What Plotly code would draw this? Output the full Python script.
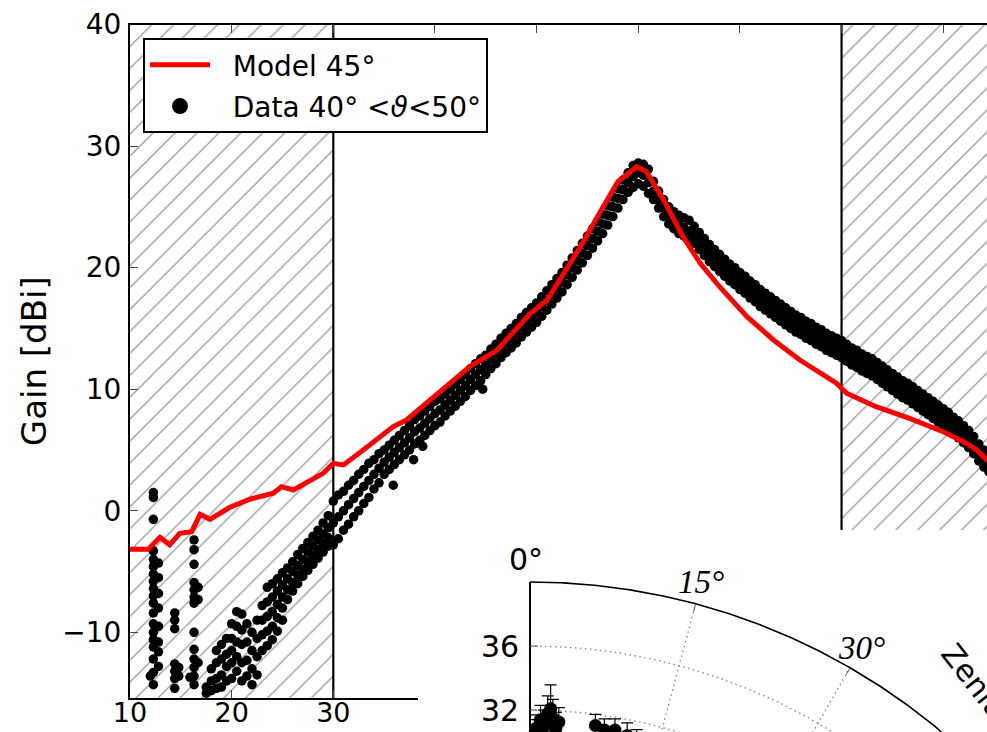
import numpy as np
import plotly.graph_objects as go

# ---------------- data ----------------
# Model 45 deg curve (zenith angle [deg], gain [dBi])
model_x = [10, 11.8, 12.95, 13.9, 14.9, 16.07, 16.9, 17.87, 19.84, 21.8, 24.1, 24.9, 26.07,
           29.0, 30.0, 31.0, 32.95, 35.9, 37.2, 39.5, 42.1, 43.4, 46.1, 48.0, 49.35, 51.0,
           52.3, 54.3, 56.2, 58.0, 59.85, 60.8, 62.5, 64.4, 66.1, 68.0, 70.7, 73.3, 75.9,
           78.5, 79.5, 80.5, 83.4, 86.7, 90.0, 92.0, 93.3, 94.3, 95.0]
model_y = [-3.17, -3.17, -2.18, -2.8, -1.85, -1.72, -0.29, -0.7, 0.29, 0.95, 1.44, 1.98, 1.71,
           3.08, 3.9, 3.77, 5.0, 6.92, 7.47, 9.11, 10.9, 11.85, 13.2, 15.0, 16.2, 17.3,
           18.98, 21.7, 24.5, 27.07, 28.3, 27.9, 25.57, 22.55, 20.36, 18.43, 15.97, 14.05, 12.4,
           11.03, 10.49, 9.67, 8.56, 7.6, 6.5, 5.68, 5.0, 4.18, 3.7]

# Data 40<theta<50, main band. Middle row at x = 30.0, 30.5, ..., 95.0
band_mid_y = [-1.0, -0.5, 0.0, 0.5, 1.0, 1.5, 2.0, 2.5, 3.0, 3.5,
              4.0, 4.4, 4.8, 5.2, 5.6, 6.0, 6.5, 6.8, 7.2, 7.6,
              8.0, 8.3, 8.7, 9.1, 9.5, 9.9, 10.3, 10.8, 11.2, 11.6,
              12.0, 12.5, 12.9, 13.4, 13.8, 14.2, 14.6, 15.1, 15.5, 15.9,
              16.3, 16.8, 17.3, 17.8, 18.3, 18.8, 19.4, 20.0, 20.6, 21.2,
              21.8, 22.4, 23.0, 23.6, 24.3, 25.0, 25.7, 26.4, 27.0, 27.5,
              27.8, 27.6, 27.0, 26.3, 25.6, 24.9, 24.3, 23.9, 23.6, 23.3,
              23.0, 22.7, 22.2, 21.7, 21.2, 20.8, 20.4, 20.0, 19.6, 19.3,
              18.9, 18.6, 18.2, 17.9, 17.5, 17.2, 16.9, 16.6, 16.3, 16.0,
              15.7, 15.4, 15.2, 14.9, 14.7, 14.4, 14.2, 13.9, 13.7, 13.5,
              13.3, 13.0, 12.7, 12.5, 12.2, 12.0, 11.8, 11.5, 11.2, 10.9,
              10.6, 10.3, 10.0, 9.8, 9.5, 9.2, 8.9, 8.6, 8.3, 8.0,
              7.7, 7.4, 7.0, 6.7, 6.3, 5.9, 5.4, 4.8, 4.3, 3.9,
              3.5]
# upper edge of the band at x = 30, 31, ..., 95
band_hi_int_y = [0.8, 1.6, 2.5, 3.4, 4.2, 5.0, 5.8, 6.6, 7.5, 8.2,
                 9.0, 9.6, 10.4, 11.2, 12.1, 12.8, 13.7, 14.6, 15.4, 16.3,
                 17.1, 18.1, 19.1, 20.2, 21.4, 22.6, 23.8, 25.1, 26.5, 27.8,
                 28.6, 28.1, 26.3, 25.0, 24.3, 23.9, 22.9, 21.9, 21.1, 20.3,
                 19.6, 18.9, 18.2, 17.6, 17.0, 16.4, 15.9, 15.4, 14.9, 14.4,
                 14.0, 13.4, 12.9, 12.5, 11.9, 11.3, 10.7, 10.2, 9.6, 9.0,
                 8.4, 7.7, 7.0, 6.1, 5.0, 4.2]
# upper edge of the band at x = 30.5, 31.5, ..., 94.5
band_hi_half_y = [1.3, 2.1, 3.0, 3.9, 4.7, 5.4, 6.2, 7.0, 7.8, 8.6,
                  9.2, 10.0, 10.8, 11.7, 12.5, 13.3, 14.2, 15.0, 15.9, 16.7,
                  17.6, 18.6, 19.6, 20.8, 22.0, 23.2, 24.4, 25.8, 27.2, 28.4,
                  28.5, 27.1, 25.6, 24.6, 24.1, 23.4, 22.4, 21.5, 20.7, 20.0,
                  19.3, 18.6, 17.9, 17.3, 16.7, 16.1, 15.6, 15.1, 14.6, 14.2,
                  13.7, 13.2, 12.7, 12.2, 11.6, 11.0, 10.5, 9.9, 9.3, 8.7,
                  8.1, 7.4, 6.6, 5.5, 4.6]
# lower edge of the band at x = 30, 31, ..., 95
band_lo_int_y = [-2.8, -1.6, -0.5, 0.6, 1.8, 3.0, 3.8, 4.6, 5.5, 6.2,
                 7.0, 7.8, 8.6, 9.4, 10.3, 11.2, 12.1, 13.0, 13.8, 14.7,
                 15.5, 16.5, 17.5, 18.6, 19.8, 21.0, 22.2, 23.5, 24.9, 26.2,
                 26.9, 26.1, 24.9, 23.6, 22.8, 22.3, 21.5, 20.5, 19.7, 18.9,
                 18.2, 17.5, 16.8, 16.2, 15.6, 15.0, 14.5, 14.0, 13.5, 13.0,
                 12.6, 12.0, 11.5, 11.1, 10.5, 9.9, 9.3, 8.8, 8.2, 7.6,
                 7.0, 6.3, 5.6, 4.7, 3.6, 2.8]
# lower edge of the band at x = 30.5, 31.5, ..., 94.5
band_lo_half_y = [-2.3, -1.1, 0.0, 1.1, 2.3, 3.4, 4.2, 5.0, 5.8, 6.6,
                  7.3, 8.2, 9.0, 9.9, 10.7, 11.7, 12.6, 13.4, 14.3, 15.1,
                  16.0, 17.0, 18.0, 19.2, 20.4, 21.6, 22.8, 24.2, 25.6, 26.6,
                  26.7, 25.6, 24.2, 23.2, 22.6, 22.0, 21.0, 20.1, 19.3, 18.6,
                  17.9, 17.2, 16.5, 15.9, 15.3, 14.7, 14.2, 13.7, 13.2, 12.8,
                  12.3, 11.8, 11.3, 10.8, 10.2, 9.6, 9.1, 8.5, 7.9, 7.3,
                  6.7, 6.0, 5.2, 4.1, 3.2]

# scattered low-angle data (columns)
low_x = [17.5, 18, 18.5, 19, 19.5, 20, 20.5, 21, 21.5, 22, 22.5, 23, 23.5, 24, 24.5, 25,
         25.5, 26, 26.5, 27, 27.5, 28, 28.5, 29, 29.5]
low_y = [[-14.5, -15.0],
         [-13.0, -14.0, -14.8],
         [-11.5, -12.5, -13.8, -14.6],
         [-11.0, -12.2, -13.5, -14.5],
         [-10.5, -11.8, -12.8, -14.0],
         [-9.3, -10.5, -11.5, -12.5, -13.8],
         [-8.3, -9.5, -10.8, -12.0, -13.2],
         [-8.5, -9.8, -11.0, -12.5, -14.0],
         [-9.3, -10.8, -12.3, -13.6],
         [-10.0, -11.5, -13.0, -14.3],
         [-9.0, -10.5, -12.0, -13.5],
         [-7.8, -9.0, -10.2, -11.5],
         [-6.3, -7.5, -8.7, -9.9, -11.1],
         [-6.0, -7.1, -8.3, -9.5, -10.6],
         [-5.6, -6.6, -7.7, -8.8, -9.9],
         [-5.1, -6.1, -7.1, -8.0, -9.0],
         [-4.7, -5.6, -6.5, -7.3],
         [-4.2, -5.0, -5.9, -6.6],
         [-3.6, -4.5, -5.3, -6.0],
         [-3.1, -4.0, -4.8, -5.4],
         [-2.6, -3.4, -4.2, -4.9],
         [-2.1, -2.9, -3.7, -4.4],
         [-1.6, -2.4, -3.2, -3.9],
         [-1.0, -1.9, -2.7, -3.4],
         [-0.4, -1.4, -2.2, -2.9]]
iso_x = [12.0, 12.3, 12.8, 14.4, 14.8, 15.9, 16.3, 16.7]
iso_y = [[-13.6],
         [1.5, 1.1, -0.7, -3.3, -4.0, -4.6, -5.2, -5.8, -6.4, -7.0, -7.6, -8.4, -9.3,
          -10.0, -10.6, -11.2, -12.2, -13.3, -14.3],
         [-4.3, -5.5, -6.8, -8.0, -9.5, -10.8, -11.6, -12.8],
         [-8.4, -9.0, -9.7, -12.6, -13.2, -13.8, -14.6],
         [-12.9, -13.6],
         [-13.7],
         [-2.4, -3.2, -4.4, -5.9, -6.5, -7.1, -7.6, -10.0, -11.4, -12.2, -12.9, -13.6, -14.3],
         [-6.3, -7.3, -12.5]]
stray_x = [35.9, 37.9, 38.8, 44.7]
stray_y = [2.1, 4.2, 5.3, 10.0]

# hatched (excluded) zenith ranges
excluded_ranges = [(0, 30), (80, 100)]

x_tick_vals = [10, 20, 30, 40, 50, 60, 70, 80, 90]
x_tick_text = ["10", "20", "30", "", "", "", "", "", ""]   # 40+ hidden behind the inset
y_tick_vals = [-10, 0, 10, 20, 30, 40]

# inset (polar) data: zenith angle [deg], gain [dBi], gain error, angle error [deg]
inset_theta = [0.6, 0.8, 1.0, 1.2, 1.6, 2.0, 2.3, 2.6, 2.8, 3.0, 3.3, 7.5, 8.6, 9.8, 11.3, 12.5]
inset_r = [30.6, 30.9, 30.5, 31.4, 31.0, 31.8, 32.1, 31.5, 30.4, 30.9, 31.3,
           31.3, 31.1, 31.2, 31.0, 30.8]
inset_rerr = [0.8, 0.8, 0.9, 0.9, 1.0, 1.1, 1.5, 1.2, 1.0, 1.0, 0.9,
              0.7, 0.7, 0.7, 0.8, 0.7]
inset_terr = [0.6, 0.6, 0.6, 0.6, 0.6, 0.6, 0.6, 0.6, 0.6, 0.6, 0.6,
              0.5, 0.5, 0.5, 0.5, 0.5]
inset_r_ticks = [32, 36]
inset_theta_ticks = [0, 15, 30, 45]
inset_r_max = 40

# ---------------- figure ----------------
W, H = 987, 732
FONT = "DejaVu Sans"
fig = go.Figure()

for x0, x1 in excluded_ranges:
    fig.add_trace(go.Scatter(
        x=[x0, x1, x1, x0, x0], y=[-40, -40, 60, 60, -40], mode="lines",
        fill="toself", fillcolor="rgba(255,255,255,0)",
        fillpattern=dict(shape="/", size=15.5, solidity=0.085, fgcolor="#333",
                         bgcolor="rgba(255,255,255,0)"),
        line=dict(color="black", width=2.2), showlegend=False, hoverinfo="skip"))

data_x, data_y = [], []
for xv, ys in zip(iso_x + low_x, iso_y + low_y):
    data_x += [xv] * len(ys)
    data_y += ys
for x_start, step, ys in [(30, 0.5, band_mid_y), (30, 1, band_hi_int_y),
                          (30.5, 1, band_hi_half_y), (30, 1, band_lo_int_y),
                          (30.5, 1, band_lo_half_y)]:
    data_x += [x_start + step * i for i in range(len(ys))]
    data_y += ys
data_x += stray_x
data_y += stray_y

fig.add_trace(go.Scatter(x=data_x, y=data_y, mode="markers",
                         marker=dict(color="black", size=9.5, line=dict(width=0)),
                         showlegend=False, hoverinfo="skip"))
fig.add_trace(go.Scatter(x=model_x, y=model_y, mode="lines",
                         name="\u00a0\u00a0Model 45°",
                         line=dict(color="#ff0000", width=5), legendgroup="m", legendrank=1))
fig.add_trace(go.Scatter(x=[None], y=[None], mode="markers",
                         name="\u00a0\u00a0Data 40° &lt;<i>ϑ</i>&lt;50°",
                         marker=dict(color="black", size=16), legendgroup="d", legendrank=2))

# ---------- inset: polar view drawn on its own axes ----------
def pol(r, th_deg):
    t = np.deg2rad(np.asarray(th_deg, dtype=float))
    r = np.asarray(r, dtype=float)
    return r * np.sin(t), r * np.cos(t)

arc_t = np.linspace(0, 90, 361)
GRID = dict(color="#888", width=1.4, dash="1.5px,3.5px")
for rv in inset_r_ticks:
    gx, gy = pol(np.full_like(arc_t, rv), arc_t)
    fig.add_trace(go.Scatter(x=gx, y=gy, mode="lines", xaxis="x2", yaxis="y2", line=GRID,
                             showlegend=False, hoverinfo="skip"))
for tv in inset_theta_ticks[1:]:
    gx, gy = pol([0, inset_r_max], [tv, tv])
    fig.add_trace(go.Scatter(x=gx, y=gy, mode="lines", xaxis="x2", yaxis="y2", line=GRID,
                             showlegend=False, hoverinfo="skip"))
ox, oy = pol(np.full_like(arc_t, inset_r_max), arc_t)
fig.add_trace(go.Scatter(x=ox, y=oy, mode="lines", xaxis="x2", yaxis="y2",
                         line=dict(color="black", width=1.6), showlegend=False, hoverinfo="skip"))
sx, sy = pol([0, inset_r_max], [0, 0])
fig.add_trace(go.Scatter(x=sx, y=sy, mode="lines", xaxis="x2", yaxis="y2",
                         line=dict(color="black", width=2), showlegend=False, hoverinfo="skip"))
tkx, tky = [], []
for rv in inset_r_ticks:
    a, b = pol([rv, rv], [0, 0.8])
    tkx += list(a) + [None]; tky += list(b) + [None]
for tv in inset_theta_ticks[1:3]:
    a, b = pol([inset_r_max - 0.5, inset_r_max], [tv, tv])
    tkx += list(a) + [None]; tky += list(b) + [None]
fig.add_trace(go.Scatter(x=tkx, y=tky, mode="lines", xaxis="x2", yaxis="y2",
                         line=dict(color="#555", width=1), showlegend=False, hoverinfo="skip"))
px_, py_ = pol(inset_r, inset_theta)
fig.add_trace(go.Scatter(
    x=px_, y=py_, mode="markers", xaxis="x2", yaxis="y2",
    marker=dict(color="black", size=13),
    error_y=dict(type="data", array=inset_rerr, color="black", thickness=1.2, width=6),
    error_x=dict(type="data", array=list(np.asarray(inset_r) * np.deg2rad(inset_terr)),
                 color="#555", thickness=1, width=4),
    showlegend=False, hoverinfo="skip"))

annotations = []
for rv in inset_r_ticks:
    annotations.append(dict(x=0, y=rv, xref="x2", yref="y2", text=str(rv), showarrow=False,
                            xanchor="right", yanchor="middle", xshift=-9,
                            font=dict(family=FONT, size=30, color="black")))
lab_r = 41.4
for tv in inset_theta_ticks[:3]:
    lx, ly = pol(lab_r, tv)
    if tv == 0:
        annotations.append(dict(x=float(lx), y=float(ly), xref="x2", yref="y2", text="0°",
                                showarrow=False, xanchor="center", yanchor="middle", xshift=-4,
                                font=dict(family=FONT, size=30, color="black")))
    else:
        annotations.append(dict(x=float(lx), y=float(ly), xref="x2", yref="y2",
                                text="<i>%d°</i>" % tv, showarrow=False,
                                xanchor="center", yanchor="middle",
                                font=dict(family="Liberation Serif", size=33, color="black")))
annotations.append(dict(x=1007 / W, y=1 - 722 / H, xref="paper", yref="paper",
                        text="Zenith angle", showarrow=False, textangle=52,
                        xanchor="center", yanchor="middle",
                        font=dict(family=FONT, size=30, color="black")))

x_per_px = 1 / 10.165
fig.update_layout(
    width=W, height=H, margin=dict(l=0, r=0, t=0, b=0, autoexpand=False),
    paper_bgcolor="white", plot_bgcolor="white",
    font=dict(family=FONT, color="black"),
    showlegend=True,
    legend=dict(x=143 / W, y=1 - 38 / H, xanchor="left", yanchor="top",
                bgcolor="white", bordercolor="black", borderwidth=2,
                font=dict(family=FONT, size=28, color="black"),
                itemwidth=60, traceorder="grouped", tracegroupgap=2),
    xaxis=dict(domain=[130 / W, 1], range=[10, 10 + (W - 130) * x_per_px], automargin=False,
               tickvals=x_tick_vals, ticktext=x_tick_text,
               ticks="inside", ticklen=8, tickwidth=1, tickcolor="#444",
               showline=True, linecolor="black", linewidth=2, mirror="ticks",
               showgrid=False, zeroline=False, ticklabelstandoff=-10,
               tickfont=dict(family=FONT, size=27, color="black")),
    yaxis=dict(domain=[1 - 698 / H, 1 - 24.5 / H], range=[-15.4, 40], automargin=False,
               tickvals=y_tick_vals, ticks="inside", ticklen=8, tickwidth=1, tickcolor="#444",
               showline=True, linecolor="black", linewidth=2, mirror=False,
               showgrid=False, zeroline=False, ticklabelstandoff=1,
               tickfont=dict(family=FONT, size=28, color="black"),
               title=dict(text="Gain [dBi]", standoff=5,
                          font=dict(family=FONT, size=34, color="black"))),
    xaxis2=dict(domain=[418 / W, 1], range=[(418 - 530) / 16, (W - 530) / 16], anchor="y2",
                automargin=False,
                showgrid=False, zeroline=False, showline=False, showticklabels=False, ticks=""),
    yaxis2=dict(domain=[0, (H - 530) / H], range=[(1222 - H) / 16, (1222 - 530) / 16],
                anchor="x2", automargin=False,
                showgrid=False, zeroline=False, showline=False, showticklabels=False, ticks=""),
    annotations=annotations,
)

fig.write_html("out.html")
